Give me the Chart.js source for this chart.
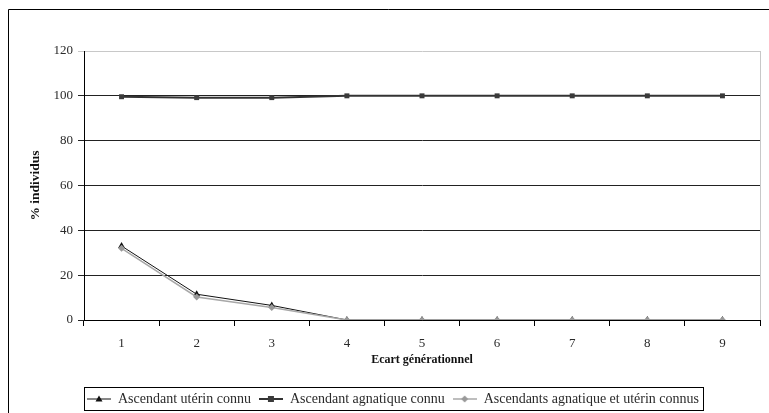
<!DOCTYPE html>
<html>
<head>
<meta charset="utf-8">
<script src="https://cdn.jsdelivr.net/npm/chart.js@4/dist/chart.umd.min.js"></script>
<style>
  html, body { margin: 0; padding: 0; background: #fff; overflow: hidden; }
  #wrap { width: 769px; height: 413px; }
</style>
</head>
<body>
<div id="wrap"><canvas id="chart" width="769" height="413"></canvas></div>
<script>
// --- Data ---
const ecarts = ['1', '2', '3', '4', '5', '6', '7', '8', '9'];
const uterinConnu = [33, 11.5, 6.5, 0, 0, 0, 0, 0, 0];
const agnatiqueConnu = [99.6, 99.2, 99.2, 100, 100, 100, 100, 100, 100];
const lesDeuxConnus = [32, 10.3, 5.6, 0, 0, 0, 0, 0, 0];
const yTicks = [0, 20, 40, 60, 80, 100, 120];

const serif = "'Liberation Serif', 'DejaVu Serif', serif";
const textColor = '#2a2a2a';

// small canvas used as legend symbol: line with marker in the middle
const legendSymbol = (lineColor, lineWidth, marker, markerColor) => {
    const c = document.createElement('canvas');
    c.width = 24; c.height = 10;
    const g = c.getContext('2d');
    g.strokeStyle = lineColor;
    g.lineWidth = lineWidth;
    g.beginPath();
    g.moveTo(0, 5); g.lineTo(24, 5);
    g.stroke();
    g.fillStyle = markerColor;
    g.beginPath();
    if (marker === 'triangle') {
        g.moveTo(12, 1.5); g.lineTo(15.5, 7.5); g.lineTo(8.5, 7.5);
    } else if (marker === 'rect') {
        g.rect(9, 2, 6, 6);
    } else {
        g.moveTo(12, 1.5); g.lineTo(15.5, 5); g.lineTo(12, 8.5); g.lineTo(8.5, 5);
    }
    g.closePath();
    g.fill();
    return c;
};

const symbols = [
    legendSymbol('#111', 1, 'triangle', '#111'),
    legendSymbol('#333', 2, 'rect', '#3a3a3a'),
    legendSymbol('#a8a8a8', 1.5, 'diamond', '#999')
];

// frame around the whole figure, plot border and legend box
const decorations = {
    id: 'decorations',
    afterDraw(chart) {
        const ctx = chart.ctx;
        const a = chart.chartArea;
        ctx.save();
        // outer frame (only left and top visible)
        ctx.strokeStyle = '#000';
        ctx.lineWidth = 1;
        ctx.beginPath();
        ctx.moveTo(8.5, 413);
        ctx.lineTo(8.5, 9.5);
        ctx.lineTo(769, 9.5);
        ctx.stroke();
        // right border of the plot area
        ctx.strokeStyle = '#c8c8c8';
        ctx.beginPath();
        ctx.moveTo(Math.round(a.right) + 0.5, a.top);
        ctx.lineTo(Math.round(a.right) + 0.5, a.bottom);
        ctx.stroke();
        // legend box
        const boxes = chart.legend.legendHitBoxes;
        if (boxes && boxes.length) {
            const first = boxes[0];
            const last = boxes[boxes.length - 1];
            const x0 = Math.round(first.left - 3) + 0.5;
            const x1 = Math.round(last.left + last.width + 4) + 0.5;
            const cy = first.top + first.height / 2;
            ctx.strokeStyle = '#000';
            ctx.strokeRect(x0, Math.round(cy - 12) + 0.5, x1 - x0, 23);
        }
        ctx.restore();
    }
};

new Chart(document.getElementById('chart'), {
    type: 'line',
    data: {
        labels: ecarts,
        datasets: [
            {
                label: 'Ascendant utérin connu',
                data: uterinConnu,
                borderColor: '#111',
                borderWidth: 1,
                pointStyle: 'triangle',
                pointRadius: 4,
                pointBackgroundColor: '#111',
                pointBorderColor: '#111',
                pointBorderWidth: 0,
                order: 2
            },
            {
                label: 'Ascendant agnatique connu',
                data: agnatiqueConnu,
                borderColor: '#333',
                borderWidth: 2,
                pointStyle: 'rect',
                pointRadius: 3.5,
                pointBackgroundColor: '#3a3a3a',
                pointBorderColor: '#3a3a3a',
                pointBorderWidth: 0,
                order: 3
            },
            {
                label: 'Ascendants agnatique et utérin connus',
                data: lesDeuxConnus,
                borderColor: '#a8a8a8',
                borderWidth: 1.5,
                pointStyle: 'rectRot',
                pointRadius: 3.5,
                pointBackgroundColor: '#999',
                pointBorderColor: '#999',
                pointBorderWidth: 0,
                order: 1
            }
        ]
    },
    options: {
        responsive: false,
        animation: false,
        layout: { padding: { left: 26, right: 9, top: 51, bottom: -3 } },
        plugins: {
            tooltip: { enabled: false },
            legend: {
                position: 'bottom',
                align: 'center',
                labels: {
                    usePointStyle: true,
                    pointStyleWidth: 24,
                    padding: 8,
                    color: textColor,
                    font: { family: serif, size: 14 },
                    generateLabels: (chart) => chart.data.datasets.map((ds, i) => ({
                        text: ds.label,
                        pointStyle: symbols[i],
                        fontColor: textColor,
                        lineWidth: 0,
                        strokeStyle: 'rgba(0,0,0,0)',
                        fillStyle: 'rgba(0,0,0,0)',
                        datasetIndex: i
                    }))
                }
            }
        },
        scales: {
            x: {
                offset: true,
                afterFit: (scale) => { scale.height = 64; },
                grid: {
                    offset: true,
                    drawOnChartArea: false,
                    drawTicks: true,
                    tickLength: 6,
                    color: '#000'
                },
                border: { color: '#000', width: 1 },
                ticks: {
                    color: textColor,
                    padding: 10,
                    maxRotation: 0,
                    font: { family: serif, size: 13 }
                },
                title: {
                    display: true,
                    text: 'Ecart générationnel',
                    color: '#111',
                    padding: { top: 0, bottom: 17 },
                    font: { family: serif, size: 12, weight: 'bold' }
                }
            },
            y: {
                min: 0,
                max: 120,
                afterFit: (scale) => { scale.width = 58; },
                afterBuildTicks: (scale) => { scale.ticks = yTicks.map(v => ({ value: v })); },
                grid: {
                    tickLength: 6,
                    color: (c) => (c.tick && c.tick.value === 120) ? '#c8c8c8' : '#222',
                    lineWidth: 1
                },
                border: { color: '#000', width: 1 },
                ticks: {
                    color: textColor,
                    padding: 5,
                    font: { family: serif, size: 13 }
                },
                title: {
                    display: true,
                    text: '% individus',
                    color: '#111',
                    padding: { top: 1, bottom: 0 },
                    font: { family: serif, size: 13.5, weight: 'bold' }
                }
            }
        }
    },
    plugins: [decorations]
});
</script>
</body>
</html>
